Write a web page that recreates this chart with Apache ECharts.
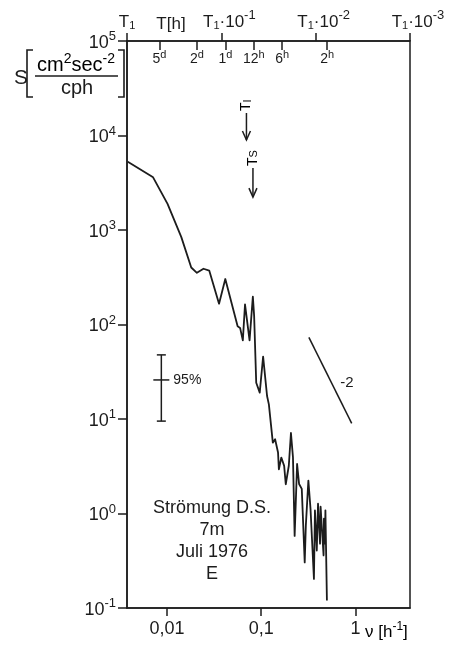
<!DOCTYPE html>
<html>
<head>
<meta charset="utf-8">
<script src="https://cdn.jsdelivr.net/npm/echarts@6/dist/echarts.min.js"></script>
<style>html,body{margin:0;background:#fff}#main{width:450px;height:645px}</style>
</head>
<body>
<div id="main"></div>
<script>
// spectrum (frequency in 1/h, S in cm2 sec-2 / cph)
var freq = [0.00385, 0.00714, 0.01016, 0.01422, 0.01811, 0.0208, 0.02443, 0.0281, 0.0357, 0.0416,
    0.0562, 0.0597, 0.0638, 0.0673, 0.0702, 0.0752, 0.0815, 0.0841, 0.0885, 0.0964,
    0.1047, 0.1153, 0.1205, 0.1327, 0.1403, 0.1507, 0.1538, 0.1633, 0.175, 0.182,
    0.196, 0.2065, 0.217, 0.226, 0.240, 0.252, 0.269, 0.289, 0.297, 0.316,
    0.333, 0.362, 0.371, 0.388, 0.400, 0.420, 0.426, 0.440, 0.458, 0.462,
    0.473, 0.479, 0.497];
var spec = [5270, 3610, 1890, 841, 401, 352, 389, 372, 166, 303,
    95.7, 92, 68, 163, 170, 68, 197, 123, 24.2, 19.0,
    45.7, 17.5, 14.3, 5.62, 6.10, 4.42, 2.94, 3.91, 3.19, 2.04,
    3.20, 7.11, 3.93, 0.58, 3.34, 2.05, 1.82, 0.304, 0.743, 2.23,
    1.12, 0.203, 1.08, 0.406, 1.27, 0.48, 1.18, 0.69, 0.36, 0.88,
    0.48, 1.08, 0.120];

var fMin = 0.003776;          // 1/T1
var fMax = 3.776;             // 1/(T1*10^-3)
var yTicks = [0.1, 1, 10, 100, 1000, 10000, 100000];
var xTicks = [0.01, 0.1, 1];
var xTickLabels = ['0,01', '0,1', '1'];
var periodF = [1 / 120, 1 / 48, 1 / 24, 1 / 12, 1 / 6, 1 / 2];
var periodNum = ['5', '2', '1', '12', '6', '2'];
var periodUnit = ['d', 'd', 'd', 'h', 'h', 'h'];
var t1F = [0.003776, 0.03776, 0.3776, 3.776];
var t1Exp = ['', '-1', '-2', '-3'];

// -2 reference slope
var slopeF = [0.32, 0.91];
var slopeS = [73, 9.0];
var slopeLabelF = 0.81, slopeLabelS = 24;

// 95% confidence bar
var errF = 0.00873;
var errLo = 9.5, errMid = 25.9, errHi = 47.7;

// arrows T_I and T_S
var arrowF = [0.0697, 0.0817];
var arrowTail = [17300, 4530];
var arrowTip = [8960, 2230];
var arrowSub = ['I', 'S'];

var ink = '#1c1c1c';
var FONT = '"Liberation Sans", Arial, sans-serif';

function nearest(arr, v) {
    var best = 0;
    for (var i = 1; i < arr.length; i++) {
        if (Math.abs(Math.log(arr[i] / v)) < Math.abs(Math.log(arr[best] / v))) best = i;
    }
    return best;
}

var supRich = {
    n: { fontSize: 18, color: ink, fontFamily: FONT, verticalAlign: 'bottom' },
    s: { fontSize: 13, color: ink, fontFamily: FONT, verticalAlign: 'bottom', padding: [0, 0, 9, 0] },
    b: { fontSize: 11, color: ink, fontFamily: FONT, verticalAlign: 'bottom', lineHeight: 6 },
    g: { width: 16 },
    p: { fontSize: 14, color: ink, fontFamily: FONT, verticalAlign: 'bottom' },
    q: { fontSize: 11, color: ink, fontFamily: FONT, verticalAlign: 'bottom', padding: [0, 0, 6, 0] },
    t: { fontSize: 17, color: ink, fontFamily: FONT, verticalAlign: 'bottom' }
};

var chart = echarts.init(document.getElementById('main'));

var option = {
    animation: false,
    backgroundColor: '#fff',
    grid: {
        left: 127, right: 40, top: 41, bottom: 37,
        show: true, borderColor: ink, borderWidth: 1.5, backgroundColor: 'transparent'
    },
    xAxis: [
        {
            type: 'log', logBase: 10, min: fMin, max: fMax, position: 'bottom',
            axisLine: { lineStyle: { color: ink, width: 1.5 } },
            axisTick: { customValues: xTicks, length: 8, lineStyle: { color: ink, width: 1.5 } },
            minorTick: { show: false },
            splitLine: { show: false },
            axisLabel: {
                customValues: xTicks, margin: 12, color: ink, fontSize: 18, fontFamily: FONT,
                formatter: function (v) { return xTickLabels[nearest(xTicks, v)]; }
            }
        },
        {
            type: 'log', logBase: 10, min: fMin, max: fMax, position: 'top',
            axisLine: { lineStyle: { color: ink, width: 1.5 } },
            axisTick: { customValues: periodF, inside: true, length: 9, lineStyle: { color: ink, width: 1.5 } },
            minorTick: { show: false },
            splitLine: { show: false },
            axisLabel: {
                customValues: periodF, inside: true, margin: 8, rich: supRich,
                formatter: function (v) {
                    var i = nearest(periodF, v);
                    return '{p|' + periodNum[i] + '}{q|' + periodUnit[i] + '}';
                }
            }
        },
        {
            type: 'log', logBase: 10, min: fMin, max: fMax, position: 'top',
            axisLine: { show: false },
            axisTick: { customValues: t1F, length: 8, lineStyle: { color: ink, width: 1.5 } },
            minorTick: { show: false },
            splitLine: { show: false },
            axisLabel: {
                customValues: t1F, margin: 10, rich: supRich, showMinLabel: true, showMaxLabel: true,
                formatter: function (v) {
                    var i = nearest(t1F, v);
                    if (i === 0) return '{t|T}{b|1}';
                    return '{g| }{t|T}{b|1}{t|·10}{s|' + t1Exp[i] + '}';
                }
            }
        }
    ],
    yAxis: {
        type: 'log', logBase: 10, min: 0.1, max: 100000,
        axisLine: { lineStyle: { color: ink, width: 1.5 } },
        axisTick: { customValues: yTicks, length: 9, lineStyle: { color: ink, width: 1.5 } },
        minorTick: { show: false },
        splitLine: { show: false },
        axisLabel: {
            customValues: yTicks, margin: 11, rich: supRich, showMinLabel: true, showMaxLabel: true,
            formatter: function (v) {
                return '{n|10}{s|' + Math.round(Math.log10(v)) + '}';
            }
        }
    },
    series: [
        {
            name: 'S',
            type: 'line',
            symbol: 'none',
            lineStyle: { color: ink, width: 1.8, join: 'round' },
            data: freq.map(function (f, i) { return [f, spec[i]]; })
        },
        {
            name: 'slope',
            type: 'line',
            symbol: 'none',
            lineStyle: { color: ink, width: 1.5 },
            data: slopeF.map(function (f, i) { return [f, slopeS[i]]; })
        },
        {
            name: 'slopeLabel',
            type: 'custom',
            renderItem: function (params, api) {
                var p = api.coord([api.value(0), api.value(1)]);
                return {
                    type: 'text', x: p[0], y: p[1],
                    style: { text: '-2', fill: ink, font: '15px ' + FONT, align: 'center', verticalAlign: 'middle' }
                };
            },
            data: [[slopeLabelF, slopeLabelS]]
        },
        {
            name: 'confidence',
            type: 'custom',
            renderItem: function (params, api) {
                var x = api.value(0);
                var lo = api.coord([x, api.value(1)]);
                var mid = api.coord([x, api.value(2)]);
                var hi = api.coord([x, api.value(3)]);
                var st = { stroke: ink, lineWidth: 1.5 };
                return {
                    type: 'group',
                    children: [
                        { type: 'line', shape: { x1: hi[0], y1: hi[1], x2: lo[0], y2: lo[1] }, style: st },
                        { type: 'line', shape: { x1: hi[0] - 4.5, y1: hi[1], x2: hi[0] + 4.5, y2: hi[1] }, style: st },
                        { type: 'line', shape: { x1: lo[0] - 4.5, y1: lo[1], x2: lo[0] + 4.5, y2: lo[1] }, style: st },
                        { type: 'line', shape: { x1: mid[0] - 8, y1: mid[1], x2: mid[0] + 8, y2: mid[1] }, style: st },
                        {
                            type: 'text', x: mid[0] + 12, y: mid[1],
                            style: { text: '95%', fill: ink, font: '14px ' + FONT, align: 'left', verticalAlign: 'middle' }
                        }
                    ]
                };
            },
            data: [[errF, errLo, errMid, errHi]]
        },
        {
            name: 'arrows',
            type: 'custom',
            renderItem: function (params, api) {
                var tail = api.coord([api.value(0), api.value(1)]);
                var tip = api.coord([api.value(0), api.value(2)]);
                var st = { stroke: ink, lineWidth: 1.5, fill: 'none' };
                return {
                    type: 'group',
                    children: [
                        { type: 'line', shape: { x1: tail[0], y1: tail[1], x2: tip[0], y2: tip[1] }, style: st },
                        { type: 'polyline', shape: { points: [[tip[0] - 4, tip[1] - 9], [tip[0], tip[1]], [tip[0] + 4, tip[1] - 9]] }, style: st },
                        {
                            type: 'text', x: tail[0], y: tail[1] - 2, rotation: Math.PI / 2,
                            style: {
                                text: '{t|T}{b|' + arrowSub[params.dataIndex] + '}',
                                rich: {
                                    t: { fontSize: 14, fontFamily: FONT, color: ink, verticalAlign: 'bottom' },
                                    b: { fontSize: 11, fontFamily: FONT, color: ink, verticalAlign: 'bottom', lineHeight: 6 }
                                },
                                align: 'left', verticalAlign: 'middle'
                            }
                        }
                    ]
                };
            },
            data: arrowF.map(function (f, i) { return [f, arrowTail[i], arrowTip[i]]; })
        }
    ],
    graphic: [
        { type: 'text', x: 21, y: 78, style: { text: 'S', fill: ink, font: '21px ' + FONT, align: 'center', verticalAlign: 'middle' } },
        { type: 'polyline', shape: { points: [[33, 50], [27, 50], [27, 97], [33, 97]] }, style: { stroke: ink, lineWidth: 1.6, fill: null } },
        { type: 'polyline', shape: { points: [[118, 50], [124, 50], [124, 97], [118, 97]] }, style: { stroke: ink, lineWidth: 1.6, fill: null } },
        {
            type: 'text', x: 76, y: 64,
            style: {
                text: '{n|cm}{s|2}{n|sec}{s|-2}', align: 'center', verticalAlign: 'middle',
                rich: {
                    n: { fontSize: 20, fontFamily: FONT, color: ink, verticalAlign: 'bottom' },
                    s: { fontSize: 14, fontFamily: FONT, color: ink, verticalAlign: 'bottom', padding: [0, 0, 9, 0] }
                }
            }
        },
        { type: 'line', shape: { x1: 35, y1: 76, x2: 118, y2: 76 }, style: { stroke: ink, lineWidth: 1.5 } },
        { type: 'text', x: 77, y: 88, style: { text: 'cph', fill: ink, font: '20px ' + FONT, align: 'center', verticalAlign: 'middle' } },
        { type: 'text', x: 171, y: 24, style: { text: 'T[h]', fill: ink, font: '17px ' + FONT, align: 'center', verticalAlign: 'middle' } },
        {
            type: 'text', x: 365, y: 631,
            style: {
                text: '{n|ν [h}{s|-1}{n|]}', align: 'left', verticalAlign: 'middle',
                rich: {
                    n: { fontSize: 17, fontFamily: FONT, color: ink, verticalAlign: 'bottom' },
                    s: { fontSize: 12, fontFamily: FONT, color: ink, verticalAlign: 'bottom', padding: [0, 0, 8, 0] }
                }
            }
        },
        {
            type: 'text', x: 212, y: 497,
            style: {
                text: 'Strömung D.S.\n7m\nJuli 1976\nE', fill: ink, font: '18px ' + FONT,
                align: 'center', verticalAlign: 'top', lineHeight: 22
            }
        }
    ]
};

chart.setOption(option);
window.addEventListener('resize', function () {
    chart.resize();
});
</script>
</body>
</html>
